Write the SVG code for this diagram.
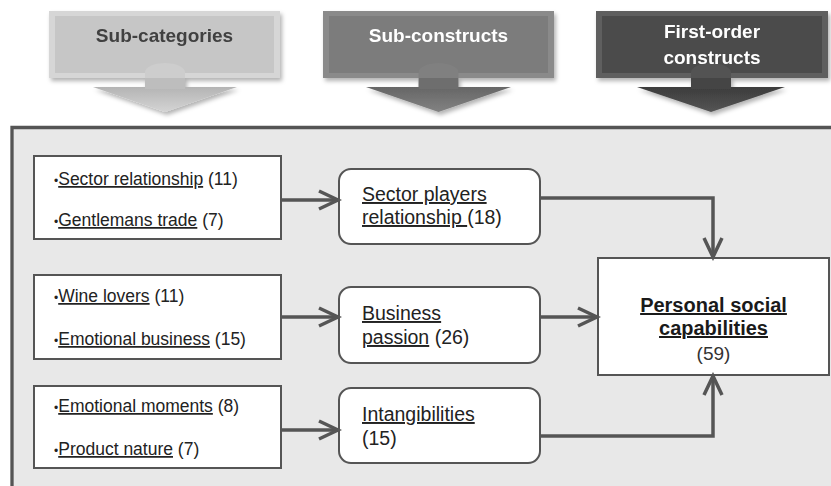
<svg xmlns="http://www.w3.org/2000/svg" width="831" height="486" viewBox="0 0 831 486">
<defs>
<style>
.hdr{font-family:"Liberation Sans",Arial,sans-serif;font-weight:bold;font-size:19px;text-anchor:middle}
.sc{font-family:"Liberation Sans",Arial,sans-serif;font-size:17.5px;fill:#222}
.sk{font-family:"Liberation Sans",Arial,sans-serif;font-size:19.5px;fill:#222}
.u{text-decoration:underline}
.b{font-size:12px}
.box{fill:#fff;stroke:#555;stroke-width:2}
.conn{fill:none;stroke:#555;stroke-width:3.5}
</style>
<marker id="ah" markerUnits="userSpaceOnUse" markerWidth="24" markerHeight="24" refX="20" refY="11" orient="auto">
<path d="M1,2 L20,11 L1,20" fill="none" stroke="#555" stroke-width="3.5"/>
</marker>
<linearGradient id="g1" x1="0" y1="0" x2="0" y2="1"><stop offset="0" stop-color="#b4b4b4"/><stop offset="1" stop-color="#d4d4d4"/></linearGradient>
<linearGradient id="g2" x1="0" y1="0" x2="0" y2="1"><stop offset="0" stop-color="#666"/><stop offset="1" stop-color="#828282"/></linearGradient>
<linearGradient id="g3" x1="0" y1="0" x2="0" y2="1"><stop offset="0" stop-color="#3c3c3c"/><stop offset="1" stop-color="#555"/></linearGradient>
<filter id="sh" x="-10%" y="-10%" width="130%" height="140%"><feDropShadow dx="2" dy="3" stdDeviation="2" flood-color="#000" flood-opacity="0.3"/></filter>
</defs>
<rect x="0" y="0" width="831" height="486" fill="#fff"/>
<g id="panel">
<rect x="12" y="127.5" width="825" height="365" fill="#e8e8e8"/>
<path d="M12,490 L12,127.5 L831,127.5" fill="none" stroke="#555" stroke-width="3.3"/>
</g>
<g id="hdr1" filter="url(#sh)">
<path d="M93,87 L237,87 L165,112 Z" fill="url(#g1)"/>
<path d="M145,89 L145,74 A20,10 0 0 1 185,74 L185,89 Z" fill="#bdbdbd"/>
<rect x="49" y="11" width="231" height="67" fill="#d6d6d6"/>
<rect x="55" y="16" width="219" height="57" fill="#c6c6c6"/>
<path d="M145,78 L145,72 A20,9 0 0 1 185,72 L185,78 Z" fill="#cdcdcd"/>
<text class="hdr" x="164.5" y="42" fill="#404040">Sub-categories</text>
</g>
<g id="hdr2" filter="url(#sh)">
<path d="M366,87 L511,87 L438.5,112 Z" fill="url(#g2)"/>
<path d="M418.5,89 L418.5,74 A20,10 0 0 1 458.5,74 L458.5,89 Z" fill="#6e6e6e"/>
<rect x="323" y="11" width="231" height="67" fill="#8a8a8a"/>
<rect x="329" y="16" width="219" height="57" fill="#7b7b7b"/>
<path d="M418.5,78 L418.5,72 A20,9 0 0 1 458.5,72 L458.5,78 Z" fill="#808080"/>
<text class="hdr" x="438.5" y="42" fill="#fff">Sub-constructs</text>
</g>
<g id="hdr3" filter="url(#sh)">
<path d="M637,87 L785,87 L711,112 Z" fill="url(#g3)"/>
<path d="M691,89 L691,74 A20,10 0 0 1 731,74 L731,89 Z" fill="#444"/>
<rect x="596" y="11" width="232" height="67" fill="#5e5e5e"/>
<rect x="602" y="16" width="220" height="57" fill="#4b4b4b"/>
<path d="M691,78 L691,72 A20,9 0 0 1 731,72 L731,78 Z" fill="#525252"/>
<text class="hdr" x="712" y="38" fill="#fff">First-order</text>
<text class="hdr" x="712" y="64" fill="#fff">constructs</text>
</g>
<g id="cat1">
<rect class="box" x="34" y="156" width="247" height="83"/>
<text class="sc" x="54" y="185"><tspan class="b">•</tspan><tspan class="u">Sector relationship</tspan> (11)</text>
<text class="sc" x="54" y="226"><tspan class="b">•</tspan><tspan class="u">Gentlemans trade</tspan> (7)</text>
</g>
<g id="cat2">
<rect class="box" x="34" y="275" width="247" height="84"/>
<text class="sc" x="54" y="302"><tspan class="b">•</tspan><tspan class="u">Wine lovers</tspan> (11)</text>
<text class="sc" x="54" y="345"><tspan class="b">•</tspan><tspan class="u">Emotional business</tspan> (15)</text>
</g>
<g id="cat3">
<rect class="box" x="34" y="386" width="247" height="82"/>
<text class="sc" x="54" y="412"><tspan class="b">•</tspan><tspan class="u">Emotional moments</tspan> (8)</text>
<text class="sc" x="54" y="455"><tspan class="b">•</tspan><tspan class="u">Product nature</tspan> (7)</text>
</g>
<g id="sub1">
<rect class="box" x="339" y="169" width="201" height="75" rx="12"/>
<text class="sk" x="362" y="201"><tspan class="u">Sector players</tspan></text>
<text class="sk" x="362" y="224"><tspan class="u">relationship </tspan>(18)</text>
</g>
<g id="sub2">
<rect class="box" x="339" y="287" width="201" height="76" rx="12"/>
<text class="sk" x="362" y="320"><tspan class="u">Business</tspan></text>
<text class="sk" x="362" y="344"><tspan class="u">passion</tspan> (26)</text>
</g>
<g id="sub3">
<rect class="box" x="339" y="388" width="201" height="75" rx="12"/>
<text class="sk" x="362" y="421"><tspan class="u">Intangibilities</tspan></text>
<text class="sk" x="362" y="445">(15)</text>
</g>
<g id="psc">
<rect class="box" x="598" y="258" width="231" height="117"/>
<text x="713.5" y="312" text-anchor="middle" font-family="Liberation Sans, Arial, sans-serif" font-weight="bold" font-size="20" fill="#1a1a1a"><tspan class="u">Personal social</tspan></text>
<text x="713.5" y="335" text-anchor="middle" font-family="Liberation Sans, Arial, sans-serif" font-weight="bold" font-size="20" fill="#1a1a1a"><tspan class="u">capabilities</tspan></text>
<text x="713.5" y="360" text-anchor="middle" font-family="Liberation Sans, Arial, sans-serif" font-size="19" fill="#333">(59)</text>
</g>
<g id="connectors">
<path class="conn" d="M282,200 L338,200" marker-end="url(#ah)"/>
<path class="conn" d="M282,317 L338,317" marker-end="url(#ah)"/>
<path class="conn" d="M282,430 L338,430" marker-end="url(#ah)"/>
<path class="conn" d="M541,198 L713,198 L713,257" marker-end="url(#ah)"/>
<path class="conn" d="M541,317 L597,317" marker-end="url(#ah)"/>
<path class="conn" d="M541,436 L713,436 L713,376" marker-end="url(#ah)"/>
</g>
</svg>
